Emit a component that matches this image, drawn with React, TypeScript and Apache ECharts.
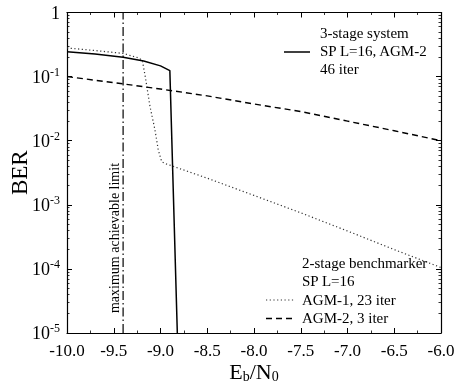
import React, { useEffect, useRef } from "react";
import * as echarts from "echarts";

const solidX = [-10, -9.7, -9.4, -9.18, -9.0, -8.9, -8.82];
const solidY = [0.245, 0.225, 0.2, 0.175, 0.147, 0.124, 1e-5];

const dottedX = [-10, -9.7, -9.4, -9.24, -9.195, -9.166, -9.112, -9.059, -9.024, -8.987, -8.95, -8.5, -8, -7.5, -7, -6.5, -6];
const dottedY = [0.28, 0.255, 0.23, 0.197, 0.18, 0.106, 0.034, 0.0147, 0.0072, 0.0047, 0.0044, 0.0026, 0.0014, 7.5e-4, 3.9e-4, 2.0e-4, 1.05e-4];

const dashedX = [-10, -9.4, -9, -8.5, -8, -7.5, -7, -6.5, -6];
const dashedY = [0.1, 0.077, 0.064, 0.05, 0.0374, 0.0285, 0.0202, 0.0143, 0.01];

const limitX = -9.4;
const limitLabel = "maximum achievable limit";

const legendTop = ["3-stage system", "SP L=16, AGM-2", "46 iter"];
const legendBottom = ["2-stage benchmarker", "SP L=16", "AGM-1, 23 iter", "AGM-2, 3 iter"];

const FONT = "Liberation Serif";

function zip(xs: number[], ys: number[]) {
  return xs.map((x, i) => [x, ys[i]]);
}

export default function App() {
  const ref = useRef<HTMLDivElement>(null);
  useEffect(() => {
    if (!ref.current) return;
    const chart = echarts.init(ref.current, undefined, { renderer: "svg" });
    const tickStyle = { show: true, inside: true, length: 5, lineStyle: { color: "#000", width: 1 } };
    const minorStyle = { show: true, length: 2.5, lineStyle: { color: "#000", width: 0.8 } };
    const xBase = {
      type: "value" as const,
      min: -10,
      max: -6,
      interval: 0.5,
      axisLine: { show: true, onZero: false, lineStyle: { color: "#000", width: 1.2 } },
      axisTick: tickStyle,
      minorTick: { ...minorStyle, splitNumber: 2 },
      splitLine: { show: false },
      minorSplitLine: { show: false },
    };
    const yBase = {
      type: "log" as const,
      logBase: 10,
      min: 1e-5,
      max: 1,
      axisLine: { show: true, onZero: false, lineStyle: { color: "#000", width: 1.2 } },
      axisTick: tickStyle,
      minorTick: { ...minorStyle, splitNumber: 9 },
      splitLine: { show: false },
      minorSplitLine: { show: false },
    };
    const textStyle = { fontFamily: FONT, fontSize: 15, fill: "#000" };
    const legendGraphics: any[] = [];
    legendTop.forEach((t, i) => {
      legendGraphics.push({ type: "text", x: 320, y: 33 + i * 18, style: { ...textStyle, text: t, verticalAlign: "middle" } });
    });
    legendGraphics.push({ type: "line", shape: { x1: 284, y1: 52, x2: 310, y2: 52 }, style: { stroke: "#000", lineWidth: 1.5 } });
    legendBottom.forEach((t, i) => {
      legendGraphics.push({ type: "text", x: 302, y: 263 + i * 18.3, style: { ...textStyle, text: t, verticalAlign: "middle" } });
    });
    legendGraphics.push({ type: "line", shape: { x1: 266, y1: 300, x2: 295, y2: 300 }, style: { stroke: "#333", lineWidth: 1.2, lineDash: [1.2, 2.5] } });
    legendGraphics.push({ type: "line", shape: { x1: 266, y1: 318.5, x2: 295, y2: 318.5 }, style: { stroke: "#000", lineWidth: 1.4, lineDash: [6, 4] } });
    legendGraphics.push({
      type: "text",
      x: 114,
      y: 238,
      rotation: Math.PI / 2,
      style: { fontFamily: FONT, fontSize: 14, fill: "#000", text: limitLabel, align: "center", verticalAlign: "middle" },
    });

    chart.setOption({
      animation: false,
      grid: { left: 67, right: 16, top: 12.5, bottom: 50, containLabel: false, outerBoundsMode: "none" },
      xAxis: [
        {
          ...xBase,
          position: "bottom",
          axisLabel: {
            margin: 9,
            fontFamily: FONT,
            fontSize: 17,
            color: "#000",
            formatter: (v: number) => v.toFixed(1),
          },
          name: "E{sub|b}/N{sub|0}",
          nameLocation: "middle",
          nameGap: 26,
          nameMoveOverlap: false,
          nameTextStyle: {
            fontFamily: FONT,
            fontSize: 22,
            lineHeight: 24,
            color: "#000",
            rich: { sub: { fontFamily: FONT, fontSize: 14, lineHeight: 14, color: "#000", verticalAlign: "bottom" } },
          },
        },
        { ...xBase, position: "top", axisLabel: { show: false } },
      ],
      yAxis: [
        {
          ...yBase,
          position: "left",
          axisLabel: {
            margin: 7,
            fontFamily: FONT,
            fontSize: 18,
            color: "#000",
            formatter: (v: number) => {
              const e = Math.round(Math.log10(v));
              return e === 0 ? "1" : "10{sup|" + e + "}";
            },
            rich: { sup: { fontFamily: FONT, fontSize: 12, color: "#000", padding: [0, 0, 10, 0] } },
          },
          name: "BER",
          nameLocation: "middle",
          nameGap: 36,
          nameMoveOverlap: false,
          nameTextStyle: { fontFamily: FONT, fontSize: 23, color: "#000" },
        },
        { ...yBase, position: "right", axisLabel: { show: false } },
      ],
      graphic: legendGraphics,
      series: [
        {
          type: "line",
          data: zip(solidX, solidY),
          showSymbol: false,
          lineStyle: { color: "#000", width: 1.5, type: "solid" },
        },
        {
          type: "line",
          data: zip(dottedX, dottedY),
          showSymbol: false,
          lineStyle: { color: "#333", width: 1.2, type: [1.2, 2.5] },
        },
        {
          type: "line",
          data: zip(dashedX, dashedY),
          showSymbol: false,
          lineStyle: { color: "#000", width: 1.4, type: [6, 4] },
        },
        {
          type: "line",
          data: [
            [limitX, 1e-5],
            [limitX, 1],
          ],
          showSymbol: false,
          lineStyle: { color: "#000", width: 1.2, type: [9, 3, 1.5, 3] },
        },
      ],
    });
    return () => chart.dispose();
  }, []);
  return <div ref={ref} style={{ position: "fixed", left: 0, top: 0, width: 457, height: 383 }} />;
}
